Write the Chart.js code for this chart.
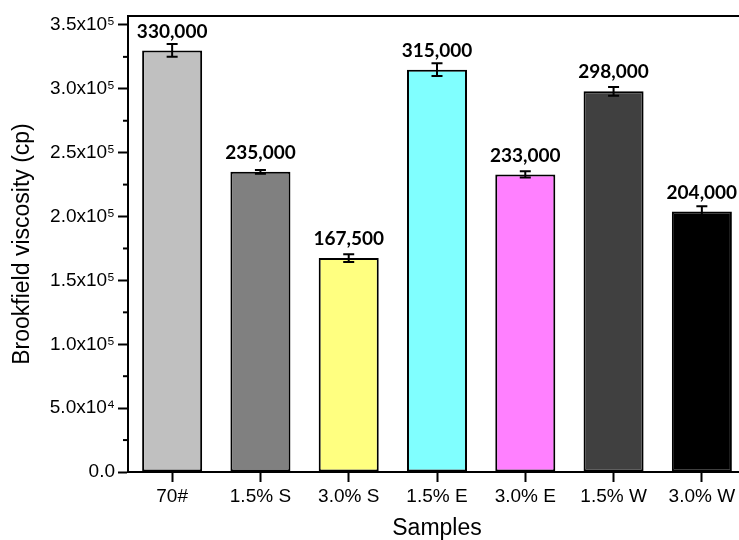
<!DOCTYPE html>
<html>
<head>
<meta charset="utf-8">
<script src="https://cdn.jsdelivr.net/npm/chart.js@4"></script>
<style>
  html, body { margin: 0; padding: 0; background: #fff; overflow: hidden; }
  #wrap { width: 760px; height: 540px; }
</style>
</head>
<body>
<div id="wrap"><canvas id="viscChart"></canvas></div>
<script>
const samples = ["70#", "1.5% S", "3.0% S", "1.5% E", "3.0% E", "1.5% W", "3.0% W"];
const viscosity = [330000, 235000, 167500, 315000, 233000, 298000, 204000];
const viscosityErr = [5000, 1500, 3000, 5000, 2500, 3500, 4000];
const barColors = ["#c0c0c0", "#808080", "#ffff80", "#80ffff", "#ff80ff", "#404040", "#000000"];
const yTickValues = [0, 50000, 100000, 150000, 200000, 250000, 300000, 350000];

const axisFont = "Arial, 'Liberation Sans', sans-serif";

function sciLabel(v) {
    if (v === 0) return "0.0";
    if (v >= 100000) return (v / 100000).toFixed(1) + "x10\u2075";
    return (v / 10000).toFixed(1) + "x10\u2074";
}

// frame, minor ticks, error bars and value labels
const extras = {
    id: "extras",
    afterDatasetsDraw(chart) {
        const { ctx, chartArea } = chart;
        const x = chart.scales.x;
        const y = chart.scales.y;
        ctx.save();
        ctx.strokeStyle = "#000";
        ctx.lineWidth = 2;

        // top and right border of the plot box
        ctx.beginPath();
        ctx.moveTo(chartArea.left, chartArea.top);
        ctx.lineTo(chartArea.right, chartArea.top);
        ctx.lineTo(chartArea.right, chartArea.bottom);
        ctx.stroke();

        // minor ticks halfway between the labelled ones
        for (let i = 0; i < yTickValues.length; i++) {
            const v = yTickValues[i] + 25000;
            if (v > y.max) break;
            const py = y.getPixelForValue(v);
            ctx.beginPath();
            ctx.moveTo(chartArea.left - 5, py);
            ctx.lineTo(chartArea.left, py);
            ctx.stroke();
        }

        // error bars
        viscosity.forEach((v, i) => {
            const px = x.getPixelForValue(i);
            const hi = y.getPixelForValue(v + viscosityErr[i]);
            const lo = y.getPixelForValue(v - viscosityErr[i]);
            ctx.beginPath();
            ctx.moveTo(px, hi);
            ctx.lineTo(px, lo);
            ctx.moveTo(px - 5.5, hi);
            ctx.lineTo(px + 5.5, hi);
            ctx.moveTo(px - 5.5, lo);
            ctx.lineTo(px + 5.5, lo);
            ctx.stroke();
        });

        // value labels above each bar
        ctx.fillStyle = "#000";
        ctx.font = "bold 19px Lato";
        ctx.textAlign = "center";
        ctx.textBaseline = "middle";
        viscosity.forEach((v, i) => {
            const px = x.getPixelForValue(i);
            const py = y.getPixelForValue(v) - 19;
            ctx.fillText(v.toLocaleString("en-US"), px, py);
        });
        ctx.restore();
    },
};

const ctx = document.getElementById("viscChart").getContext("2d");

new Chart(ctx, {
    type: "bar",
    data: {
        labels: samples,
        datasets: [
            {
                data: viscosity,
                backgroundColor: barColors,
                borderColor: "#000",
                borderWidth: 2,
                borderSkipped: false,
                categoryPercentage: 1,
                barPercentage: 0.68,
            },
        ],
    },
    options: {
        responsive: true,
        maintainAspectRatio: false,
        animation: false,
        layout: { padding: { top: 16, right: 14, bottom: 0, left: 0 } },
        plugins: {
            legend: { display: false },
            tooltip: { enabled: false },
        },
        scales: {
            x: {
                grid: {
                    offset: false,
                    drawOnChartArea: false,
                    tickLength: 10,
                    tickWidth: 2,
                    tickColor: "#000",
                },
                border: { color: "#000", width: 2 },
                ticks: {
                    color: "#000",
                    padding: 3,
                    maxRotation: 0,
                    font: { family: axisFont, size: 19 },
                },
                title: {
                    display: true,
                    text: "Samples",
                    color: "#000",
                    padding: 0,
                    font: { family: axisFont, size: 23, lineHeight: 1 },
                },
                afterFit(scale) {
                    scale.height = 68;
                },
            },
            y: {
                min: 0,
                max: 357000,
                grid: {
                    drawOnChartArea: false,
                    tickLength: 10,
                    tickWidth: 2,
                    tickColor: "#000",
                },
                border: { color: "#000", width: 2 },
                afterBuildTicks(scale) {
                    scale.ticks = yTickValues.map((v) => ({ value: v }));
                },
                ticks: {
                    color: "#000",
                    padding: 3,
                    font: { family: axisFont, size: 19 },
                    callback: (v) => sciLabel(v),
                },
                title: {
                    display: true,
                    text: "Brookfield viscosity (cp)",
                    color: "#000",
                    padding: { top: 11, bottom: 0 },
                    font: { family: axisFont, size: 23, lineHeight: 1 },
                },
                afterFit(scale) {
                    scale.width = 128;
                },
            },
        },
    },
    plugins: [extras],
});
</script>
</body>
</html>
